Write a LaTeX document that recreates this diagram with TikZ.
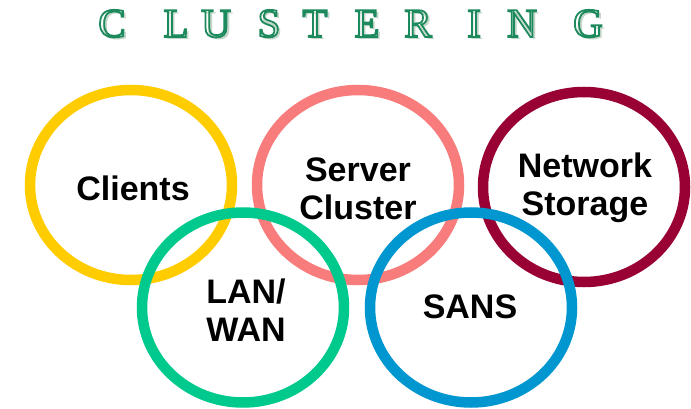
\documentclass[tikz,border=0pt]{standalone}
\usepackage{fontspec}
\setmainfont{Liberation Serif}
\newfontfamily\labelfont{Liberation Sans}
\definecolor{ringyellow}{HTML}{FFCC00}
\definecolor{ringsalmon}{HTML}{F87C7C}
\definecolor{ringmaroon}{HTML}{990033}
\definecolor{ringgreen}{HTML}{00C98D}
\definecolor{ringblue}{HTML}{0096CF}
\definecolor{titlegreen}{HTML}{1C8A5C}
\definecolor{titleshadow}{HTML}{C4D6C8}
% outlined (inline) letters: stroke the glyph instead of filling it
\newcommand{\inlineletter}[1]{\special{pdf:literal direct 1 Tr 1.8 w}#1\special{pdf:literal direct 0 Tr 1 w}}
\tikzset{
  ring/.style={line width=10.5pt},
  ringlabel/.style={font=\labelfont\bfseries\fontsize{34}{38}\selectfont, align=center, inner sep=0pt},
  titleletter/.style={font=\fontsize{41}{41}\selectfont, text=titlegreen, anchor=base, inner sep=0pt},
  titleshade/.style={font=\fontsize{41}{41}\selectfont, text=titleshadow, anchor=base, inner sep=0pt},
}
\begin{document}
\begin{tikzpicture}[x=1pt, y=-1pt]
  \useasboundingbox (0,0) rectangle (691,409);
  \fill[white] (0,0) rectangle (691,409);

  % spaced title letters with a soft shadow
  \foreach \ch/\cx [count=\i] in {C/112, L/176, U/216, S/269, T/315, E/367, R/418, I/474, N/522, G/588} {
    \node[titleshade] (s\i) at (\cx+3, 40) {\ch};
    \node[titleletter] (t\i) at (\cx, 37) {\inlineletter{\ch}};
  }

  % upper row of rings
  \draw[ring, ringyellow] (131,185) ellipse [x radius=101, y radius=95];
  \draw[ring, ringsalmon] (358,185) ellipse [x radius=101, y radius=95];
  \draw[ring, ringmaroon] (584,187) ellipse [x radius=101, y radius=95];
  % lower row of rings, drawn over the upper row
  \draw[ring, ringgreen] (243,307.5) ellipse [x radius=101, y radius=95];
  \draw[ring, ringblue] (471,307.5) ellipse [x radius=101, y radius=95];

  % labels
  \node[ringlabel] (clients) at (133,188) {Clients};
  \node[ringlabel] (server) at (358,189) {Server\\Cluster};
  \node[ringlabel] (storage) at (585,188) {Network\\Storage};
  \node[ringlabel] (lan) at (246,310) {LAN/\\WAN};
  \node[ringlabel] (sans) at (470,307) {SANS};
\end{tikzpicture}
\end{document}
